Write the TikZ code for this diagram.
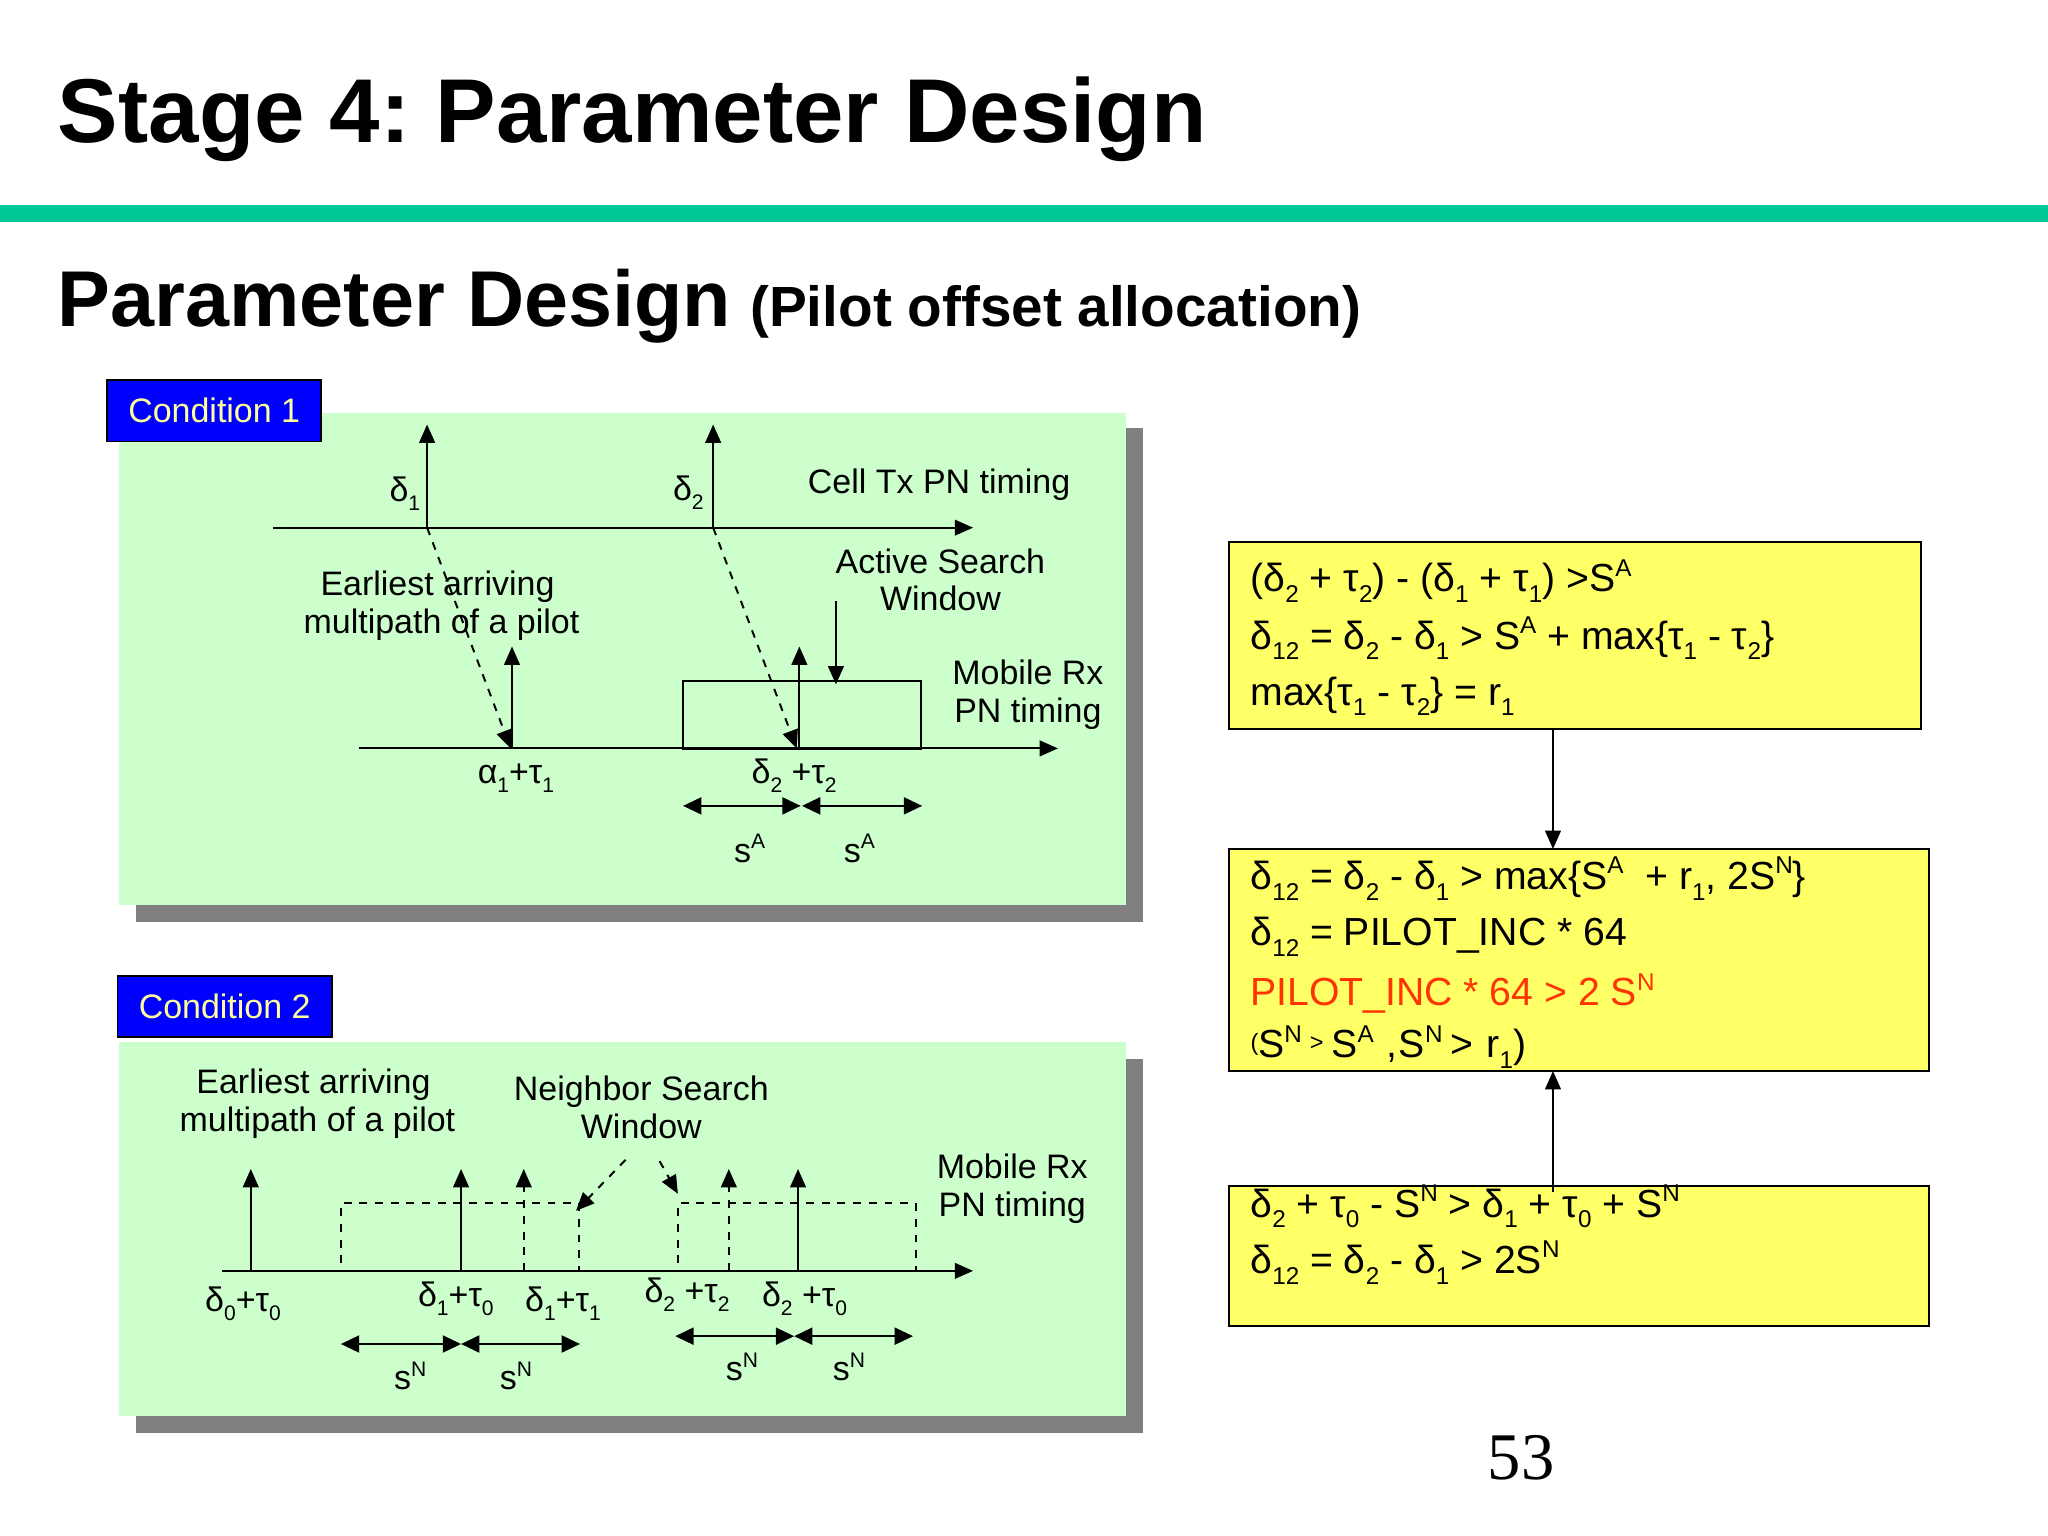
\documentclass[tikz,border=0pt]{standalone}
\usepackage{fontspec}
\setmainfont{Liberation Sans}
\newfontfamily\pagefont{Liberation Serif}
\usetikzlibrary{arrows.meta,positioning}
\definecolor{rulegreen}{RGB}{0,200,150}
\definecolor{panelgreen}{RGB}{204,255,204}
\definecolor{panelshade}{RGB}{128,128,128}
\definecolor{boxyellow}{RGB}{255,255,102}
\definecolor{tagyellow}{RGB}{255,255,153}
\definecolor{eqred}{RGB}{255,51,0}
\makeatletter
\newcommand{\smallpart}[1]{{\fontsize{\strip@pt\dimexpr0.62\dimexpr\f@size pt\relax\relax}{0}\selectfont #1}}
\makeatother
\newcommand{\lo}[1]{\raisebox{-0.27em}{\smallpart{#1}}}
\newcommand{\hi}[1]{\raisebox{0.4em}{\smallpart{#1}}}
\newcommand{\dl}[1]{δ\lo{#1}}
\newcommand{\ta}[1]{τ\lo{#1}}
\newcommand{\Sa}{S\hi{A}}
\newcommand{\Sn}{S\hi{N}}
\tikzset{
  tip/.style={-{Triangle[length=7pt,width=6pt]},line width=0.75pt},
  twotip/.style={{Triangle[length=7pt,width=6.5pt]}-{Triangle[length=7pt,width=6.5pt]},line width=0.8pt},
  panel/.style={fill=panelgreen,inner sep=0pt,outer sep=0pt,anchor=north west,minimum width=385.5pt},
  shade/.style={fill=panelshade,inner sep=0pt,outer sep=0pt,anchor=north west,minimum width=385.5pt},
  tag/.style={draw=black,line width=0.7pt,fill=blue,text=tagyellow,font=\fontsize{13}{15}\selectfont,inner sep=0pt,outer sep=0pt,anchor=north west,minimum width=82pt,minimum height=23.5pt},
  lbl/.style={font=\fontsize{13}{15}\selectfont,inner sep=0pt,anchor=base},
  twolines/.style={font=\fontsize{13}{14.5}\selectfont,inner sep=0pt,align=center},
  eqbox/.style={draw=black,line width=0.7pt,fill=boxyellow,inner sep=0pt,outer sep=0pt,anchor=north west},
  eqline/.style={font=\fontsize{15}{18}\selectfont,inner sep=0pt,anchor=base west}
}
\begin{document}
\frenchspacing
\begin{tikzpicture}[x=0.5pt,y=-0.5pt]
\useasboundingbox (0,0) rectangle (1568,1176);
% heading
\node[font=\fontsize{34.7}{42}\bfseries\selectfont,inner sep=0pt,anchor=base west] (title) at (44,109) {Stage 4: Parameter Design};
\fill[rulegreen] (0,157) rectangle (1568,170);
\node[font=\fontsize{30.3}{36}\bfseries\selectfont,inner sep=0pt,anchor=base west] (subtitle) at (44,250) {Parameter Design};
\node[font=\fontsize{21.7}{26}\bfseries\selectfont,inner sep=0pt,anchor=base west] (subnote) at (574,250) {(Pilot offset allocation)};
% condition 1
\node[shade,minimum height=189pt] (shadeA) at (104,328) {};
\node[panel,minimum height=188.5pt] (panelA) at (91,316) {};
\node[tag] (tagA) at (82,291) {\raisebox{-0.5pt}{Condition 1}};
\foreach \x [count=\n] in {327,546} {
  \coordinate (A\n) at (\x,404);
  \coordinate (Aup\n) at (\x,325);
  \draw[tip] (A\n) -- (Aup\n);
}
\foreach \x [count=\n] in {391,610} \coordinate (Ahit\n) at (\x,573);
\foreach \x [count=\n] in {392,612} {
  \coordinate (B\n) at (\x,573);
  \coordinate (Bup\n) at (\x,495);
  \draw[tip] (B\n) -- (Bup\n);
}
\coordinate (topstart) at (209,404);
\coordinate (topend) at (745,404);
\coordinate (botstart) at (275,573);
\coordinate (botend) at (810,573);
\draw[tip] (topstart) -- (topend);
\draw[tip] (botstart) -- (botend);
\draw[tip,dashed] (A1) -- (Ahit1);
\draw[tip,dashed] (A2) -- (Ahit2);
\node[draw=black,line width=0.7pt,inner sep=0pt,anchor=north west,minimum width=91pt,minimum height=26pt] (activewin) at (522.5,520.5) {};
\node[lbl] (dA1) at (310,384) {\dl{1}};
\node[lbl] (dA2) at (527,383) {\dl{2}};
\node[lbl] (celltx) at (719,378) {Cell Tx PN timing};
\node[twolines] (earlyA) at (338,464) {Earliest arriving\hspace*{3pt}\\multipath of a pilot};
\node[twolines] (activetxt) at (720,444) {Active Search\\Window};
\node[twolines] (mobileA) at (787,532) {Mobile Rx\\PN timing};
\coordinate (winfrom) at (640,460);
\coordinate (winto) at (640,524);
\draw[tip] (winfrom) -- (winto);
\node[lbl] (aA) at (395,600) {α\lo{1}+\ta{1}};
\node[lbl] (dB) at (608,600) {\dl{2} +\ta{2}};
\foreach \a/\b [count=\n] in {523/613,614/706} {
  \coordinate (sAl\n) at (\a,617);
  \coordinate (sAr\n) at (\b,617);
  \draw[twotip] (sAl\n) -- (sAr\n);
}
\foreach \x [count=\n] in {574,658} \node[lbl] (sAt\n) at (\x,660) {s\hi{A}};
% condition 2
\node[shade,minimum height=143pt] (shadeB) at (104,811) {};
\node[panel,minimum height=143pt] (panelB) at (91,798) {};
\node[tag] (tagB) at (90,747) {\raisebox{-0.5pt}{Condition 2}};
\node[twolines] (earlyB) at (243,845) {Earliest arriving\hspace*{3pt}\\multipath of a pilot};
\node[twolines] (neighbor) at (491,848) {Neighbor Search\\Window};
\node[twolines] (mobileB) at (775,910) {Mobile Rx\\PN timing};
\foreach \x [count=\n] in {261,519} \node[draw=black,dashed,line width=0.7pt,inner sep=0pt,anchor=north west,minimum width=91pt,minimum height=26pt] (nbwin\n) at (\x-0.5,920.5) {};
\coordinate (axstart) at (170,973);
\coordinate (axend) at (745,973);
\draw[tip] (axstart) -- (axend);
\foreach \x [count=\n] in {192,353,611} {
  \coordinate (C\n) at (\x,973);
  \coordinate (Cup\n) at (\x,895);
  \draw[tip] (C\n) -- (Cup\n);
}
\foreach \x [count=\n] in {401,558} {
  \coordinate (D\n) at (\x,973);
  \coordinate (Dup\n) at (\x,895);
  \draw[tip,dashed] (D\n) -- (Dup\n);
}
\coordinate (nbfromA) at (479,888);
\coordinate (nbtoA) at (441,927);
\coordinate (nbfromB) at (505,889);
\coordinate (nbtoB) at (519,914);
\draw[tip,dashed] (nbfromA) -- (nbtoA);
\draw[tip,dashed] (nbfromB) -- (nbtoB);
\node[lbl] (tC1) at (186,1004) {\dl{0}+\ta{0}};
\node[lbl] (tC2) at (349,1000) {\dl{1}+\ta{0}};
\node[lbl] (tC3) at (431,1004) {\dl{1}+\ta{1}};
\node[lbl] (tC4) at (526,997) {\dl{2} +\ta{2}};
\node[lbl] (tC5) at (616,1000) {\dl{2} +\ta{0}};
\foreach \a/\b/\y [count=\n] in {261/353/1029,353/444/1029,517/608/1023,608/699/1023} {
  \coordinate (sNl\n) at (\a,\y);
  \coordinate (sNr\n) at (\b,\y);
  \draw[twotip] (sNl\n) -- (sNr\n);
}
\foreach \x/\y [count=\n] in {314/1064,395/1064,568/1057,650/1057} \node[lbl] (sNt\n) at (\x,\y) {s\hi{N}};
% right column
\node[eqbox,minimum width=265pt,minimum height=71.5pt] (box1) at (941,415) {};
\node[eqbox,minimum width=268pt,minimum height=85pt] (box2) at (941,650) {};
\node[eqbox,minimum width=268pt,minimum height=53.5pt] (box3) at (941,908) {};
\coordinate (link) at (1189,0);
\coordinate (linkstart) at (1189,913);
\draw[tip] (link |- box1.south) -- (link |- box2.north);
\draw[tip] (linkstart) -- (link |- box2.south);
\node[eqline] (l11) at (957,453) {(\dl{2} + \ta{2}) - (\dl{1} + \ta{1}) >\Sa};
\node[eqline] (l12) at (957,497) {\dl{12} = \dl{2} - \dl{1} > \Sa{} + max\{\ta{1} - \ta{2}\}};
\node[eqline] (l13) at (957,540) {max\{\ta{1} - \ta{2}\} = r\lo{1}};
\node[eqline] (l21) at (957,681) {\dl{12} = \dl{2} - \dl{1} > max\{\Sa{}\ \ + r\lo{1}, 2\Sn\}};
\node[eqline] (l22) at (957,724) {\dl{12} = PILOT\_INC * 64};
\node[eqline,text=eqred] (l23) at (957,770) {PILOT\_INC * 64 > 2 \Sn};
\node[eqline] (l24) at (957,810) {\raisebox{3pt}{\fontsize{9}{10}\selectfont(}\Sn\hspace{3pt}\raisebox{3pt}{\fontsize{9}{10}\selectfont>}\hspace{3pt}\Sa\hspace{5pt},\hspace{0.5pt}\Sn\hspace{3pt}>\hspace{5pt}r\lo{1})};
\node[eqline] (l31) at (957,932) {\dl{2} + \ta{0} - \Sn{} > \dl{1} + \ta{0} + \Sn};
\node[eqline] (l32) at (957,975) {\dl{12} = \dl{2} - \dl{1} > 2\Sn};
\node[font=\fontsize{25.5}{30}\pagefont\selectfont,inner sep=0pt,anchor=base] (pagenum) at (1164.5,1133) {53};
\end{tikzpicture}
\end{document}
